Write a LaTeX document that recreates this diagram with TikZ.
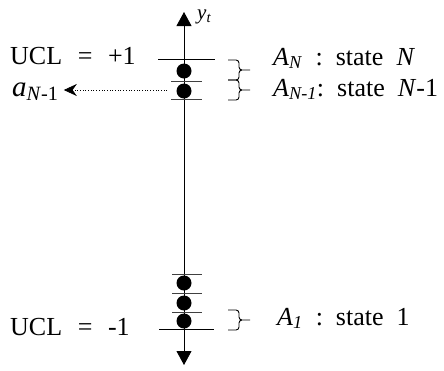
\documentclass[tikz,border=0pt]{standalone}
\usepackage{fontspec}
\setmainfont{Liberation Serif}
\usetikzlibrary{arrows.meta, positioning}

\begin{document}
\begin{tikzpicture}[
  x=1pt, y=1pt,
  every node/.style = {font=\fontsize{26}{30}\selectfont, inner sep=0pt},
  dot/.style   = {circle, fill=black, minimum size=15pt},
  ucl/.style   = {line width=1pt},
  sep/.style   = {line width=0.6pt, black!75},
  axis/.style  = {line width=0.8pt,
                  {Triangle[length=14pt, width=15pt]}-{Triangle[length=14pt, width=15pt]}},
  arr/.style   = {dotted, line width=0.7pt, -{Stealth[length=13pt, width=12pt]}},
  brc/.pic = {
    \draw[line width=0.9pt]
      (-22,10) -- (-14,10) to[out=0,in=90] (-11,7) -- (-11,3)
      to[out=-90,in=180] (-8,0) -- (0,0) -- (-8,0)
      to[out=180,in=90] (-11,-3) -- (-11,-7)
      to[out=-90,in=0] (-14,-10) -- (-22,-10);
  },
]
\useasboundingbox (0,0) rectangle (444,-370);

%% ── Axis ──────────────────────────────────────────────────────────────────
\coordinate (ybot) at (184,-365);
\coordinate (ytop) at (184,-12);
\draw[axis] (ybot) -- (ytop);
\node[anchor=base west, font=\fontsize{21}{24}\selectfont] (ylab) at (197,-19)
  {\textit{y}\textsubscript{\textit{t}}};

%% ── Upper states ──────────────────────────────────────────────────────────
\draw[ucl] (158,-59) -- (215,-59);
\node[dot] (sN)  at (184,-71) {};
\draw[sep] (171,-81) -- (202,-81);
\node[dot] (sN1) at (184,-91) {};
\draw[sep] (171,-99) -- (202,-99);

%% ── Lower states ──────────────────────────────────────────────────────────
\draw[sep] (172,-274) -- (202,-274);
\node[dot] (s3) at (184,-283) {};
\draw[sep] (172,-293) -- (202,-293);
\node[dot] (s2) at (184,-303) {};
\draw[sep] (172,-312) -- (202,-312);
\node[dot] (s1) at (184,-321) {};
\draw[ucl] (159,-329) -- (214,-329);

%% ── Limits and output ─────────────────────────────────────────────────────
\node[anchor=base west] (uclp) at (10,-64) {UCL\hspace{0.6em}=\hspace{0.6em}+1};
\node[anchor=base west] (uclm) at (10,-335) {UCL\hspace{0.6em}=\hspace{0.6em}-1};
\node[anchor=base west, font=\fontsize{29}{32}\selectfont] (aN1) at (12,-96)
  {\textit{a}\textsubscript{\textit{N}-1}};
\coordinate (aN1end) at (167,-90);
\draw[arr] (aN1end) -- ([xshift=5pt]aN1.east |- aN1end);

%% ── State braces ──────────────────────────────────────────────────────────
\pic at (250,-70)  {brc};
\pic at (250,-90)  {brc};
\pic at (250,-320) {brc};
\node[anchor=base west] (AN)  at (273,-65)
  {\textit{A}\textsubscript{\textit{N}}\ \ :\ \ state\ \ \textit{N}};
\node[anchor=base west] (AN1) at (273,-96)
  {\textit{A}\textsubscript{\textit{N-1}}:\ \ state\ \ \textit{N}-1};
\node[anchor=base west] (A1)  at (277,-325)
  {\textit{A}\textsubscript{\textit{1}}\ \ :\ \ state\ \ 1};

\end{tikzpicture}
\end{document}
